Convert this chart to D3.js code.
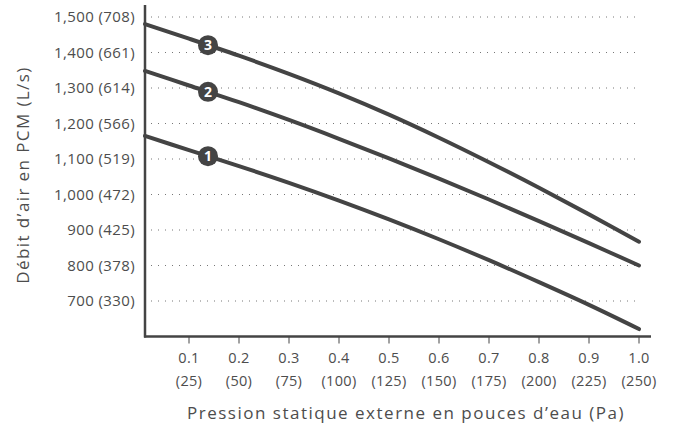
<!DOCTYPE html>
<html>
<head>
<meta charset="utf-8">
<script src="https://cdnjs.cloudflare.com/ajax/libs/d3/7.8.5/d3.min.js"></script>
<style>
  body { margin: 0; background: #fff; }
  svg { display: block; }
  text { font-family: "Open Sans", Roboto, sans-serif; fill: #4d4d4d; }
</style>
</head>
<body>
<svg id="svg" width="676" height="438"></svg>
<script>
(function() {
    'use strict';

    // pression statique (po d'eau)
    var pressure = [0.012, 0.1, 0.2, 0.3, 0.4, 0.5, 0.6, 0.7, 0.8, 0.9, 1.0];

    // débit (PCM) par courbe
    var curve1 = [1165, 1125, 1080, 1033, 983, 930, 874, 815, 753, 689, 621];
    var curve2 = [1348, 1307, 1260, 1210, 1157, 1102, 1045, 986, 925, 863, 800];
    var curve3 = [1480, 1439, 1391, 1340, 1285, 1225, 1160, 1091, 1019, 944, 867];
    var curveNames = ['1', '2', '3'];
    var labelAt = 0.138;

    var xTicks = [0.1, 0.2, 0.3, 0.4, 0.5, 0.6, 0.7, 0.8, 0.9, 1.0];
    var xTickPa = ['(25)', '(50)', '(75)', '(100)', '(125)', '(150)', '(175)', '(200)', '(225)', '(250)'];
    var yTicks = [700, 800, 900, 1000, 1100, 1200, 1300, 1400, 1500];
    var yTickLs = ['(330)', '(378)', '(425)', '(472)', '(519)', '(566)', '(614)', '(661)', '(708)'];

    var svg = d3.select('#svg');
    var dark = '#444';

    var x = d3.scaleLinear().domain([0, 1]).range([139, 639]);
    var y = d3.scaleLinear().domain([600, 1500]).range([336.5, 17]);

    var axisX = x(0.012);
    var bottom = y(600);

    // lignes pointillées
    svg.append('g').selectAll('line')
        .data(yTicks)
        .enter()
        .append('line')
        .attr('x1', axisX + 6)
        .attr('x2', x(1))
        .attr('y1', function (d) { return y(d); })
        .attr('y2', function (d) { return y(d); })
        .attr('stroke', '#777')
        .attr('stroke-width', 1)
        .attr('stroke-dasharray', '1,6');

    // étiquettes Y
    svg.append('g').selectAll('text')
        .data(yTicks)
        .enter()
        .append('text')
        .attr('x', 135)
        .attr('y', function (d) { return y(d) + 5; })
        .attr('text-anchor', 'end')
        .style('font-size', '15px')
        .style('letter-spacing', '0.4px')
        .text(function (d, i) { return d3.format(',')(d) + ' ' + yTickLs[i]; });

    // ticks X
    svg.append('g').selectAll('line')
        .data(xTicks)
        .enter()
        .append('line')
        .attr('x1', function (d) { return x(d); })
        .attr('x2', function (d) { return x(d); })
        .attr('y1', bottom)
        .attr('y2', bottom + 7)
        .attr('stroke', dark)
        .attr('stroke-width', 1);

    var xl = svg.append('g').selectAll('text')
        .data(xTicks)
        .enter()
        .append('text')
        .attr('text-anchor', 'middle')
        .style('font-size', '14.5px')
        .style('letter-spacing', '0.3px');
    xl.append('tspan')
        .attr('x', function (d) { return x(d); })
        .attr('y', 363)
        .text(function (d) { return d3.format('.1f')(d); });
    xl.append('tspan')
        .attr('x', function (d) { return x(d); })
        .attr('y', 386)
        .text(function (d, i) { return xTickPa[i]; });

    // axes
    svg.append('line')
        .attr('x1', axisX).attr('x2', axisX)
        .attr('y1', 5).attr('y2', bottom + 1)
        .attr('stroke', dark).attr('stroke-width', 2.5);
    svg.append('line')
        .attr('x1', axisX - 1).attr('x2', 651)
        .attr('y1', bottom).attr('y2', bottom)
        .attr('stroke', dark).attr('stroke-width', 2.5);

    // courbes
    var line = d3.line()
        .x(function (d, i) { return x(pressure[i]); })
        .y(function (d) { return y(d); })
        .curve(d3.curveCatmullRom);

    var series = [curve1, curve2, curve3];
    svg.append('g').selectAll('path')
        .data(series)
        .enter()
        .append('path')
        .attr('d', line)
        .attr('fill', 'none')
        .attr('stroke', dark)
        .attr('stroke-width', 4)
        .attr('stroke-linecap', 'round');

    // marqueurs numérotés
    var marker = svg.append('g').selectAll('g')
        .data(series)
        .enter()
        .append('g')
        .attr('transform', function (d) {
            var v = d3.interpolateNumber(d[1], d[2]);
            var t = (labelAt - pressure[1]) / (pressure[2] - pressure[1]);
            return 'translate(' + [x(labelAt), y(v(t))] + ')';
        });
    marker.append('circle')
        .attr('r', 10)
        .attr('fill', dark);
    marker.append('text')
        .attr('text-anchor', 'middle')
        .attr('y', 5)
        .style('font-size', '14px')
        .style('font-weight', 'bold')
        .style('fill', '#fff')
        .text(function (d, i) { return curveNames[i]; });

    // titres
    svg.append('text')
        .attr('x', 406)
        .attr('y', 419)
        .attr('text-anchor', 'middle')
        .style('font-size', '17px')
        .style('letter-spacing', '1.5px')
        .text('Pression statique externe en pouces d\u2019eau (Pa)');

    svg.append('text')
        .attr('transform', 'translate(29,' + 175 + ') rotate(-90)')
        .attr('text-anchor', 'middle')
        .style('font-size', '17px')
        .style('letter-spacing', '1.4px')
        .text('Débit d\u2019air en PCM (L/s)');
})();
</script>
</body>
</html>
